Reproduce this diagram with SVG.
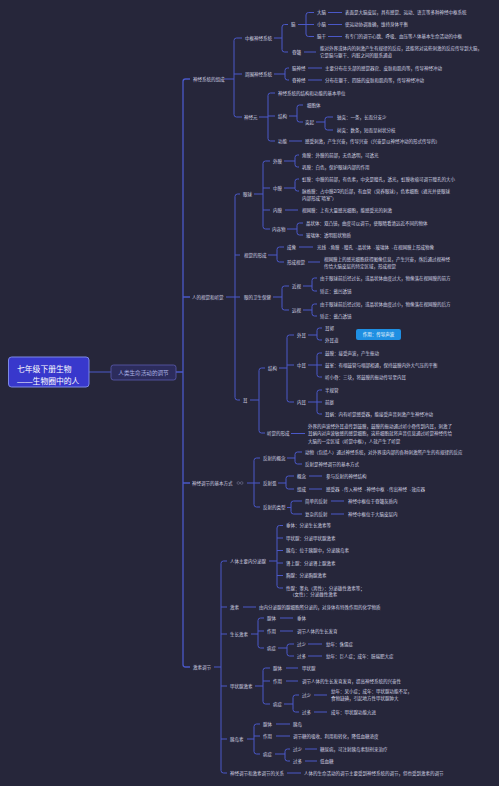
<svg xmlns="http://www.w3.org/2000/svg" width="499" height="786" viewBox="0 0 499 786">
<style>
.t{font-family:"Liberation Sans","Noto Sans CJK SC",sans-serif;font-size:4.5px;fill:#d2d2e2;dominant-baseline:central}
.ln{fill:none;stroke:#4a58c8;stroke-width:1}
.main{fill:none;stroke:#4a58c8;stroke-width:1.3}
</style>
<rect width="499" height="786" fill="#26263a"/>
<g id="connectors">
<path class="ln" d="M89,372H111"/>
<path class="main" d="M176,372H183M190,79H185.5Q183,79 183,81.5V664.5Q183,667 185.5,667H190M183,297H190M183,483H190"/>
<path class="ln" d="M224,79H234M242,38H236.5Q234,38 234,40.5V114.5Q234,117 236.5,117H242M234,74H242"/>
<path class="ln" d="M274,38H282M288,24.5H284.5Q282,24.5 282,27V49.5Q282,52 284.5,52H288"/>
<path class="ln" d="M298,24.5H314M314,12.5H308.5Q306,12.5 306,15V34Q306,36.5 308.5,36.5H314"/>
<path class="ln" d="M328,12.5H342M328,24.5H342M328,36.5H342M304,52H316"/>
<path class="ln" d="M274,74H285M289,68H287.5Q285,68 285,70.5V77.5Q285,80 287.5,80H289M308,68H322M308,80H322"/>
<path class="ln" d="M259,117H268M275,93H270.5Q268,93 268,95.5V138.5Q268,141 270.5,141H275M268,116H275"/>
<path class="ln" d="M289,116H297M303,105H299.5Q297,105 297,107.5V119.5Q297,122 299.5,122H303"/>
<path class="ln" d="M316,122H325M333,117H327.5Q325,117 325,119.5V127.5Q325,130 327.5,130H333M289,141H302"/>
<path class="ln" d="M226,297H240M240,194H237.5Q235,194 235,196.5V397.5Q235,400 237.5,400H240M235,255H240"/>
<path class="ln" d="M254,194H263M270,161H265.5Q263,161 263,163.5V226.5Q263,229 265.5,229H270M263,188H270M263,210H270"/>
<path class="ln" d="M284,161H295M299,155H297.5Q295,155 295,157.5V164.5Q295,167 297.5,167H299"/>
<path class="ln" d="M284,188H295M299,179H297.5Q295,179 295,181.5V188.5Q295,191 297.5,191H299M285,210H298"/>
<path class="ln" d="M287,229H297M303,223H299.5Q297,223 297,225.5V232.5Q297,235 299.5,235H303"/>
<path class="ln" d="M268,255H277M284,247H279.5Q277,247 277,249.5V259.5Q277,262 279.5,262H284M299,247H313M308,262H320"/>
<path class="ln" d="M273,297H282M289,286H284.5Q282,286 282,288.5V307.5Q282,310 284.5,310H289"/>
<path class="ln" d="M303,286H312M317,278H314.5Q312,278 312,280.5V288.5Q312,291 314.5,291H317"/>
<path class="ln" d="M303,310H312M317,304H314.5Q312,304 312,306.5V313.5Q312,316 314.5,316H317"/>
<path class="ln" d="M250,400H259M265,368H261.5Q259,368 259,370.5V430.5Q259,433 261.5,433H265"/>
<path class="ln" d="M279,368H287M294,335H289.5Q287,335 287,337.5V399.5Q287,402 289.5,402H294M287,365H294"/>
<path class="ln" d="M308,335H317M322,328H319.5Q317,328 317,330.5V337.5Q317,340 319.5,340H322"/>
<path class="ln" d="M308,365H322M322,353H319.5Q317,353 317,355.5V374.5Q317,377 319.5,377H322"/>
<path class="ln" d="M308,402H322M322,390H319.5Q317,390 317,392.5V411.5Q317,414 319.5,414H322"/>
<path class="ln" d="M291,433.5H305"/>
<path class="ln" d="M247,483H260M260,458H256.5Q254,458 254,460.5V504.5Q254,507 256.5,507H260"/>
<path class="ln" d="M287,458H295M302,452H297.5Q295,452 295,454.5V461.5Q295,464 297.5,464H302"/>
<path class="ln" d="M278,483H286M294,476H288.5Q286,476 286,478.5V486.5Q286,489 288.5,489H294M309,476H322M309,489H322"/>
<path class="ln" d="M287,507.5H291M302,501H293.5Q291,501 291,503.5V511.5Q291,514 293.5,514H302M331,501H344M331,514H344"/>
<path class="ln" d="M214,667H221M227,561H223.5Q221,561 221,563.5V770.5Q221,773 223.5,773H227M221,607H227M221,634H227M221,686H227M221,739H227"/>
<path class="ln" d="M269,561H277M283,525.5H279.5Q277,525.5 277,528V585.5Q277,588 279.5,588H283M277,538H283M277,550.5H283M277,563H283M277,575.5H283"/>
<path class="ln" d="M243,607H256"/>
<path class="ln" d="M251,634H258M264,618H260.5Q258,618 258,620.5V645.5Q258,648 260.5,648H264M258,631H264M280,618H293M280,631H293"/>
<path class="ln" d="M278,648H287M294,644H289.5Q287,644 287,646.5V653.5Q287,656 289.5,656H294M308,644H322M308,656H322"/>
<path class="ln" d="M255,686H263M270,668H265.5Q263,668 263,670.5V701.5Q263,704 265.5,704H270M263,681H270M286,668H298M286,681H298"/>
<path class="ln" d="M284,704H293M299,695H295.5Q293,695 293,697.5V709.5Q293,712 295.5,712H299M314,695H327M314,712H327"/>
<path class="ln" d="M247,739H254M260,724H256.5Q254,724 254,726.5V751.5Q254,754 256.5,754H260M254,736H260M276,724H290M276,736H290"/>
<path class="ln" d="M275,754H285M290,749H287.5Q285,749 285,751.5V758.5Q285,761 287.5,761H290M305,749H317M305,761H317"/>
<path class="ln" d="M287,773H301"/>
</g>
<g id="root">
<rect x="8.5" y="357" width="80.5" height="30" rx="3" fill="#3838cc" stroke="#7c88e6" stroke-width="1"/>
<text x="17" y="369.5" style="font-family:'Liberation Sans','Noto Sans CJK SC',sans-serif;font-size:7.8px;fill:#ffffff;dominant-baseline:central">七年级下册生物</text>
<text x="17" y="381" style="font-family:'Liberation Sans','Noto Sans CJK SC',sans-serif;font-size:7.8px;fill:#ffffff;dominant-baseline:central">——生物圈中的人</text>
</g>
<g id="n-regulation">
<rect x="111" y="365" width="65" height="15" rx="2.5" fill="#2c2c5c" stroke="#5a5aae" stroke-width="0.8"/>
<text x="143.5" y="372.5" text-anchor="middle" style="font-family:'Liberation Sans','Noto Sans CJK SC',sans-serif;font-size:5.6px;fill:#aab0e4;dominant-baseline:central">人类生命活动的调节</text>
</g>
<g id="n-nervous"><text class="t" x="193" y="79">神经系统的组成</text></g>
<g id="n-central"><text class="t" x="245" y="38">中枢神经系统</text></g>
<g id="n-brain"><text class="t" x="291" y="24.5">脑</text></g>
<g id="n-cerebrum"><text class="t" x="317" y="12.5">大脑</text><text class="t" x="345" y="12.5">表面是大脑皮层，具有感觉、运动、语言等多种神经中枢系统</text></g>
<g id="n-cerebellum"><text class="t" x="317" y="24.5">小脑</text><text class="t" x="345" y="24.5">使运动协调准确，维持身体平衡</text></g>
<g id="n-brainstem"><text class="t" x="317" y="36.5">脑干</text><text class="t" x="345" y="36.5">有专门的调节心跳、呼吸、血压等人体基本生命活动的中枢</text></g>
<g id="n-spinal"><text class="t" x="292" y="52">脊髓</text><text class="t" x="320" y="48.7">能对外界或体内的刺激产生有规律的反应，还能将对这些刺激的反应传导到大脑，</text><text class="t" x="320" y="55.5">它是脑与躯干、内脏之间的联系通道</text></g>
<g id="n-peripheral"><text class="t" x="245" y="74">周围神经系统</text></g>
<g id="n-cranial"><text class="t" x="292" y="68">脑神经</text><text class="t" x="325" y="68">主要分布在头部的感觉器官、皮肤和肌肉等，传导神经冲动</text></g>
<g id="n-spinalnerve"><text class="t" x="292" y="80">脊神经</text><text class="t" x="325" y="80">分布在躯干、四肢的皮肤和肌肉等，传导神经冲动</text></g>
<g id="n-neuron"><text class="t" x="244" y="117">神经元</text></g>
<g id="n-neuron-unit"><text class="t" x="278" y="93">神经系统的结构和功能的基本单位</text></g>
<g id="n-neuron-structure"><text class="t" x="278" y="116">结构</text></g>
<g id="n-cellbody"><text class="t" x="307" y="105">细胞体</text></g>
<g id="n-process"><text class="t" x="305" y="122">突起</text></g>
<g id="n-axon"><text class="t" x="337" y="117">轴突：一条，长而分支少</text></g>
<g id="n-dendrite"><text class="t" x="337" y="130">树突：数条，短而呈树状分枝</text></g>
<g id="n-neuron-function"><text class="t" x="278" y="141">功能</text><text class="t" x="305" y="141">感受刺激，产生兴奋，传导兴奋（兴奋是以神经冲动的形式传导的）</text></g>
<g id="n-senses"><text class="t" x="192" y="297">人的视觉和听觉</text></g>
<g id="n-eyeball"><text class="t" x="243" y="194">眼球</text></g>
<g id="n-outer"><text class="t" x="273" y="161">外膜</text></g>
<g id="n-cornea"><text class="t" x="302" y="155">角膜：外膜的前部，无色透明，可透光</text></g>
<g id="n-sclera"><text class="t" x="302" y="167">巩膜：白色，保护眼球内部的作用</text></g>
<g id="n-middle"><text class="t" x="273" y="188">中膜</text></g>
<g id="n-iris"><text class="t" x="302" y="179">虹膜：中膜的前部，有色素，中央是瞳孔，透光，虹膜收缩可调节瞳孔的大小</text></g>
<g id="n-choroid"><text class="t" x="302" y="191">脉络膜：占中膜2/3的后部，有血管（营养眼球），色素细胞（遮光并使眼球</text><text class="t" x="302" y="198">内部形成“暗室”）</text></g>
<g id="n-inner"><text class="t" x="273" y="210">内膜</text><text class="t" x="302" y="210">视网膜：上有大量感光细胞，能感受光的刺激</text></g>
<g id="n-contents"><text class="t" x="272" y="229">内容物</text></g>
<g id="n-lens"><text class="t" x="306" y="223">晶状体：双凸镜，曲度可以调节，使眼睛看清远近不同的物体</text></g>
<g id="n-vitreous"><text class="t" x="306" y="235">玻璃体：透明胶状物质</text></g>
<g id="n-vision"><text class="t" x="244" y="255">视觉的形成</text></g>
<g id="n-imaging"><text class="t" x="287" y="247">成像</text><text class="t" x="317" y="247">光线→角膜→瞳孔→晶状体→玻璃体→在视网膜上形成物像</text></g>
<g id="n-seeing"><text class="t" x="287" y="262">形成视觉</text><text class="t" x="324" y="259">视网膜上的感光细胞获得图像信息，产生兴奋，然后通过视神经</text><text class="t" x="324" y="266">传给大脑皮层的特定区域，形成视觉</text></g>
<g id="n-eyecare"><text class="t" x="244" y="297">眼的卫生保健</text></g>
<g id="n-myopia"><text class="t" x="292" y="286">近视</text></g>
<g id="n-myopia-1"><text class="t" x="320" y="278">由于眼球前后径过长，或晶状体曲度过大，物像落在视网膜的前方</text></g>
<g id="n-myopia-2"><text class="t" x="320" y="291">矫正：戴凹透镜</text></g>
<g id="n-hyperopia"><text class="t" x="292" y="310">远视</text></g>
<g id="n-hyperopia-1"><text class="t" x="320" y="304">由于眼球前后径过短，或晶状体曲度过小，物像落在视网膜的后方</text></g>
<g id="n-hyperopia-2"><text class="t" x="320" y="316">矫正：戴凸透镜</text></g>
<g id="n-ear"><text class="t" x="243" y="400">耳</text></g>
<g id="n-ear-structure"><text class="t" x="268" y="368">结构</text></g>
<g id="n-outerear"><text class="t" x="297" y="335">外耳</text></g>
<g id="n-auricle"><text class="t" x="325" y="328">耳郭</text></g>
<g id="n-canal"><text class="t" x="325" y="340">外耳道</text></g>
<g id="n-note">
<rect x="356" y="329" width="45" height="11" rx="2" fill="#1f8fe2"/>
<text x="378.5" y="334.5" text-anchor="middle" style="font-family:'Liberation Sans','Noto Sans CJK SC',sans-serif;font-size:4.5px;fill:#ffffff;dominant-baseline:central">作用：传导声波</text>
</g>
<g id="n-middleear"><text class="t" x="297" y="365">中耳</text></g>
<g id="n-eardrum"><text class="t" x="325" y="353">鼓膜：接受声波，产生振动</text></g>
<g id="n-tympanic"><text class="t" x="325" y="365">鼓室：有咽鼓管与咽部相通，保持鼓膜内外大气压的平衡</text></g>
<g id="n-ossicles"><text class="t" x="325" y="377">听小骨：三块，将鼓膜的振动传导至内耳</text></g>
<g id="n-innerear"><text class="t" x="297" y="402">内耳</text></g>
<g id="n-semicircular"><text class="t" x="325" y="390">半规管</text></g>
<g id="n-vestibule"><text class="t" x="325" y="402">前庭</text></g>
<g id="n-cochlea"><text class="t" x="325" y="414">耳蜗：内有听觉感受器，能接受声音刺激产生神经冲动</text></g>
<g id="n-hearing"><text class="t" x="267" y="433.5">听觉的形成</text><text class="t" x="308" y="426">外界的声波经外耳道传到鼓膜，鼓膜的振动通过听小骨传到内耳，刺激了</text><text class="t" x="308" y="433.5">耳蜗内对声波敏感的感觉细胞，这些细胞就将声音信息通过听觉神经传给</text><text class="t" x="308" y="441">大脑的一定区域（听觉中枢），人就产生了听觉</text></g>
<g id="n-basic"><text class="t" x="192" y="483">神经调节的基本方式</text><circle cx="238.3" cy="483" r="1.3" fill="none" stroke="#7f80a0" stroke-width="0.5"/><circle cx="241.7" cy="483" r="1.3" fill="none" stroke="#7f80a0" stroke-width="0.5"/></g>
<g id="n-reflex-concept"><text class="t" x="263" y="458">反射的概念</text></g>
<g id="n-reflex-def"><text class="t" x="305" y="452">动物（包括人）通过神经系统，对外界或内部的各种刺激所产生的有规律的反应</text></g>
<g id="n-reflex-basic"><text class="t" x="305" y="464">反射是神经调节的基本方式</text></g>
<g id="n-arc"><text class="t" x="263" y="483">反射弧</text></g>
<g id="n-arc-concept"><text class="t" x="297" y="476">概念</text><text class="t" x="326" y="476">参与反射的神经结构</text></g>
<g id="n-arc-parts"><text class="t" x="297" y="489">组成</text><text class="t" x="326" y="489">感受器→传入神经→神经中枢→传出神经→效应器</text></g>
<g id="n-reflex-types"><text class="t" x="263" y="507.5">反射的类型</text></g>
<g id="n-simple"><text class="t" x="305" y="501">简单的反射</text><text class="t" x="348" y="501">神经中枢位于脊髓灰质内</text></g>
<g id="n-complex"><text class="t" x="305" y="514">复杂的反射</text><text class="t" x="348" y="514">神经中枢位于大脑皮层内</text></g>
<g id="n-hormone-reg"><text class="t" x="193" y="667">激素调节</text></g>
<g id="n-glands"><text class="t" x="230" y="561">人体主要内分泌腺</text></g>
<g id="n-pituitary"><text class="t" x="286" y="525.5">垂体：分泌生长激素等</text></g>
<g id="n-thyroid"><text class="t" x="286" y="538">甲状腺：分泌甲状腺激素</text></g>
<g id="n-islet"><text class="t" x="286" y="550.5">胰岛：位于胰腺中，分泌胰岛素</text></g>
<g id="n-adrenal"><text class="t" x="286" y="563">肾上腺：分泌肾上腺激素</text></g>
<g id="n-thymus"><text class="t" x="286" y="575.5">胸腺：分泌胸腺激素</text></g>
<g id="n-gonad"><text class="t" x="286" y="588">性腺：睾丸（男性）：分泌雄性激素等；</text><text class="t" x="290" y="594.5">（女性）：分泌雌性激素</text></g>
<g id="n-hormone"><text class="t" x="230" y="607">激素</text><text class="t" x="259" y="607">由内分泌腺的腺细胞所分泌的，对身体有特殊作用的化学物质</text></g>
<g id="n-gh"><text class="t" x="230" y="634">生长激素</text></g>
<g id="n-gh-gland"><text class="t" x="267" y="618">腺体</text><text class="t" x="297" y="618">垂体</text></g>
<g id="n-gh-func"><text class="t" x="267" y="631">作用</text><text class="t" x="297" y="631">调节人体的生长发育</text></g>
<g id="n-gh-disease"><text class="t" x="267" y="648">病症</text></g>
<g id="n-gh-low"><text class="t" x="297" y="644">过少</text><text class="t" x="326" y="644">幼年：侏儒症</text></g>
<g id="n-gh-high"><text class="t" x="297" y="656">过多</text><text class="t" x="326" y="656">幼年：巨人症；成年：肢端肥大症</text></g>
<g id="n-th"><text class="t" x="230" y="686">甲状腺激素</text></g>
<g id="n-th-gland"><text class="t" x="273" y="668">腺体</text><text class="t" x="302" y="668">甲状腺</text></g>
<g id="n-th-func"><text class="t" x="273" y="681">作用</text><text class="t" x="302" y="681">调节人体的生长发育发育，提高神经系统的兴奋性</text></g>
<g id="n-th-disease"><text class="t" x="273" y="704">病症</text></g>
<g id="n-th-low"><text class="t" x="302" y="695">过少</text><text class="t" x="331" y="691.5">幼年：呆小症；成年：甲状腺功能不足，</text><text class="t" x="331" y="698.5">食物缺碘，引起地方性甲状腺肿大</text></g>
<g id="n-th-high"><text class="t" x="302" y="712">过多</text><text class="t" x="331" y="712">成年：甲状腺功能亢进</text></g>
<g id="n-insulin"><text class="t" x="230" y="739">胰岛素</text></g>
<g id="n-in-gland"><text class="t" x="263" y="724">腺体</text><text class="t" x="293" y="724">胰岛</text></g>
<g id="n-in-func"><text class="t" x="263" y="736">作用</text><text class="t" x="293" y="736">调节糖的吸收、利用和转化，降低血糖浓度</text></g>
<g id="n-in-disease"><text class="t" x="263" y="754">病症</text></g>
<g id="n-in-low"><text class="t" x="293" y="749">过少</text><text class="t" x="320" y="749">糖尿病，可注射胰岛素制剂来治疗</text></g>
<g id="n-in-high"><text class="t" x="293" y="761">过多</text><text class="t" x="320" y="761">低血糖</text></g>
<g id="n-relation"><text class="t" x="230" y="773">神经调节和激素调节的关系</text><text class="t" x="304" y="773">人体的生命活动的调节主要受到神经系统的调节，但也受到激素的调节</text></g>
</svg>
